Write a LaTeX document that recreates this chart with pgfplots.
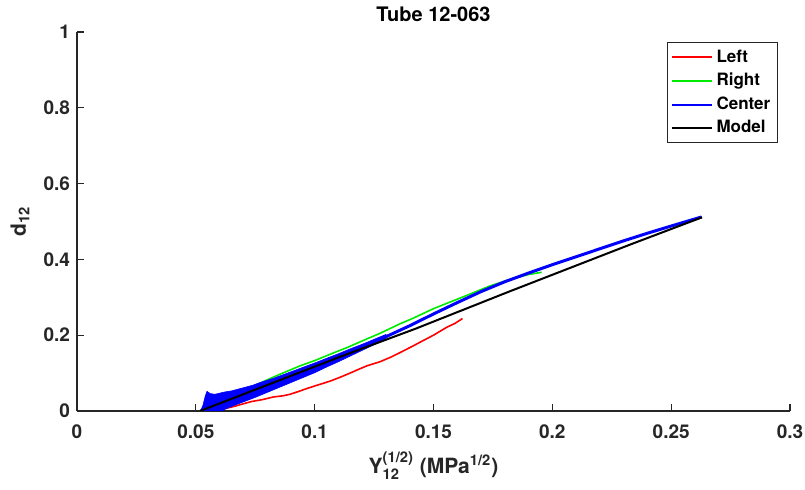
\documentclass[border=0pt]{standalone}
\usepackage{fontspec}
\setmainfont{TeX Gyre Heros}
\usepackage{amsmath}
\usepackage{pgfplots}
\pgfplotsset{compat=1.18}
\usetikzlibrary{calc}
\definecolor{mred}{RGB}{255,0,0}
\definecolor{mgreen}{RGB}{0,235,0}
\definecolor{mblue}{RGB}{0,0,255}
\definecolor{axgray}{RGB}{38,38,38}

\begin{document}
\begin{tikzpicture}
\begin{axis}[name=ax,
  scale only axis, width=356.5pt, height=189.5pt,
  xmin=0, xmax=0.3, ymin=0, ymax=1,
  axis x line*=bottom, axis y line*=left,
  axis line style={axgray, line width=0.75pt},
  tick style={axgray, line width=0.6pt},
  tick align=inside, major tick length=3.5pt,
  xtick={0,0.05,0.1,0.15,0.2,0.25,0.3},
  xticklabels={0,0.05,0.1,0.15,0.2,0.25,0.3},
  ytick={0,0.2,0.4,0.6,0.8,1},
  yticklabels={0,0.2,0.4,0.6,0.8,1},
  scaled ticks=false,
  tick label style={font=\bfseries\fontsize{9.5}{11}\selectfont, text=axgray},
  xticklabel style={yshift=-3.5pt},
  title={\textbf{Tube 12-063}},
  every axis title/.style={at={(axis description cs:0.5,1)}, anchor=base,
    yshift=5pt, font=\fontsize{10}{12}\selectfont},
  xlabel={\textbf{Y$^{\text{(1/2)}}_{\text{12}}$ (MPa$^{\text{1/2}}$)}},
  xlabel style={at={(axis description cs:0.5,-0.145)}, anchor=center,
    font=\fontsize{10.5}{12}\selectfont, text=axgray},
  ylabel={\textbf{d$_{\text{12}}$}},
  ylabel style={at={(axis description cs:-0.08,0.5)}, anchor=center, rotate=0,
    font=\fontsize{10.5}{12}\selectfont, text=axgray},
  legend style={at={(rel axis cs:1,1)}, anchor=north east, xshift=-6pt, yshift=-5pt,
    draw=axgray, line width=0.7pt, font=\bfseries\fontsize{8.5}{10}\selectfont,
    cells={anchor=west}, inner sep=1.5pt, row sep=0pt},
  legend image code/.code={\draw[#1, line width=1pt] (0pt,0pt) -- (20pt,0pt);},
]
% Left
\addplot[mred, line width=0.8pt] coordinates {
(0.058,0.000) (0.062,0.006) (0.066,0.012) (0.070,0.019) (0.0735,0.025)
(0.078,0.030) (0.0826,0.037) (0.0866,0.040) (0.0896,0.044) (0.093,0.051)
(0.0966,0.059) (0.100,0.066) (0.1036,0.073) (0.107,0.080) (0.1107,0.089)
(0.1149,0.100) (0.1185,0.110) (0.1219,0.119) (0.1275,0.130) (0.132,0.142)
(0.1359,0.154) (0.1415,0.172) (0.146,0.187) (0.150,0.200) (0.1556,0.221)
(0.1590,0.231) (0.1622,0.244)
};
\addlegendentry{Left}
% Right
\addplot[mgreen, line width=0.8pt] coordinates {
(0.052,0.000) (0.055,0.012) (0.060,0.024) (0.065,0.040) (0.070,0.055)
(0.075,0.068) (0.080,0.082) (0.0854,0.097) (0.0900,0.109) (0.0938,0.119)
(0.100,0.133) (0.1078,0.153) (0.1135,0.167) (0.1219,0.190) (0.1275,0.205)
(0.1359,0.230) (0.1415,0.245) (0.150,0.270) (0.1556,0.284) (0.164,0.305)
(0.1738,0.330) (0.182,0.347) (0.190,0.360) (0.1955,0.366)
};
\addlegendentry{Right}
% Center: noisy band at the start
\addplot[mblue, fill=mblue, line width=0.3pt, forget plot] coordinates {
(0.0520,0.000) (0.0530,0.015) (0.0540,0.040) (0.0547,0.052) (0.0560,0.046)
(0.0580,0.044) (0.0600,0.047) (0.0620,0.050) (0.0650,0.053) (0.0680,0.058)
(0.0710,0.063) (0.0740,0.068) (0.0770,0.075) (0.0800,0.081) (0.0830,0.087)
(0.0860,0.094) (0.0890,0.101) (0.0920,0.108) (0.0950,0.115) (0.0980,0.122)
(0.1010,0.129) (0.1050,0.139) (0.1100,0.151) (0.1150,0.164) (0.1200,0.176)
(0.1250,0.189) (0.1300,0.202)
(0.1300,0.190) (0.1250,0.175) (0.1200,0.160) (0.1150,0.145) (0.1100,0.130)
(0.1050,0.116) (0.1000,0.101) (0.0950,0.088) (0.0900,0.075) (0.0850,0.062)
(0.0800,0.049) (0.0750,0.036) (0.0700,0.024) (0.0650,0.012) (0.0620,0.004)
(0.0600,-0.010) (0.0520,-0.010)
} -- cycle;
% Center
\addplot[mblue, line width=1.5pt] coordinates {
(0.052,0.000) (0.060,0.022) (0.070,0.045) (0.080,0.068) (0.090,0.092)
(0.100,0.116) (0.110,0.141) (0.120,0.168) (0.130,0.196) (0.140,0.225)
(0.150,0.256) (0.160,0.286) (0.170,0.315) (0.180,0.341) (0.190,0.364)
(0.200,0.386) (0.210,0.407) (0.220,0.428) (0.230,0.449) (0.240,0.469)
(0.250,0.488) (0.2628,0.512)
};
\addlegendentry{Center}
% Model
\addplot[black, line width=1pt] coordinates {
(0.0518,0.000) (0.1107,0.143) (0.1424,0.217) (0.1822,0.316)
(0.2327,0.439) (0.2630,0.511)
};
\addlegendentry{Model}
\end{axis}
\pgfresetboundingbox
\path ($(ax.south west)+(-38.5pt,-39.5pt)$) rectangle ($(ax.north east)+(7.5pt,16pt)$);
\end{tikzpicture}
\end{document}
